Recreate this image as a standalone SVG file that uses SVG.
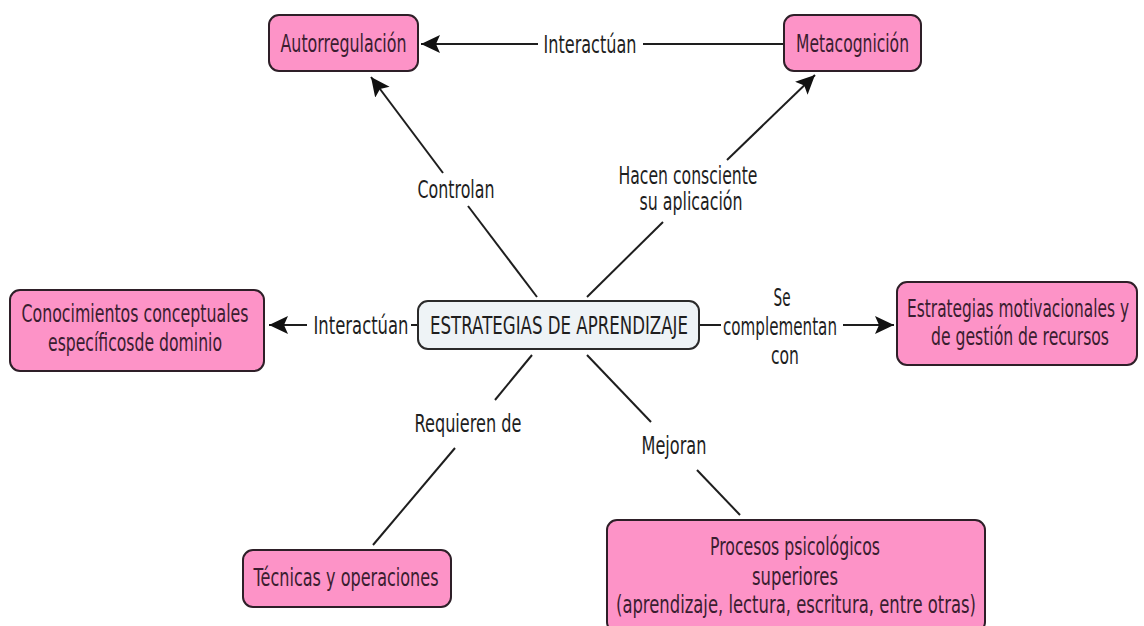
<svg xmlns="http://www.w3.org/2000/svg" width="1144" height="626" viewBox="0 0 1144 626">
<style>
  .pink { fill: #fd93c7; stroke: #2e1f28; stroke-width: 2; }
  .main { fill: #eef3f6; stroke: #2a2a2a; stroke-width: 2; }
  .nt { font-family: "DejaVu Sans", Verdana, sans-serif; font-size: 24px; fill: #3a1d30; text-anchor: middle; }
  .mt { font-family: "DejaVu Sans", Verdana, sans-serif; font-size: 24px; fill: #1e1e1e; text-anchor: middle; }
  .lt { font-family: "DejaVu Sans", Verdana, sans-serif; font-size: 24px; fill: #1e1e1e; text-anchor: middle; }
  .ln { stroke: #1e1e1e; stroke-width: 2; fill: none; }
  .ar { marker-end: url(#ah); }
</style>
<defs>
  <marker id="ah" markerUnits="userSpaceOnUse" markerWidth="22" markerHeight="20" refX="19" refY="9" orient="auto">
    <path d="M0,0 L19,9 L0,18 L4,9 Z" fill="#111"/>
  </marker>
</defs>
<rect width="1144" height="626" fill="#ffffff"/>

<g id="connectors">
  <line class="ln" x1="783" y1="44" x2="643" y2="44"/>
  <line class="ln ar" x1="538" y1="44" x2="421" y2="44"/>
  <line class="ln" x1="537" y1="297" x2="468" y2="206"/>
  <line class="ln ar" x1="443" y1="173" x2="371" y2="77"/>
  <line class="ln" x1="587" y1="297" x2="663" y2="222"/>
  <line class="ln ar" x1="727" y1="160" x2="815" y2="75"/>
  <line class="ln" x1="418" y1="325" x2="411" y2="325"/>
  <line class="ln ar" x1="307" y1="325" x2="269" y2="325"/>
  <line class="ln" x1="700" y1="325" x2="721" y2="325"/>
  <line class="ln ar" x1="843" y1="325" x2="894" y2="325"/>
  <line class="ln" x1="532" y1="355" x2="495" y2="400"/>
  <line class="ln" x1="455" y1="448" x2="373" y2="545"/>
  <line class="ln" x1="587" y1="355" x2="651" y2="422"/>
  <line class="ln" x1="697" y1="470" x2="740" y2="515"/>

  <text class="lt" x="590" y="53" textLength="93" lengthAdjust="spacingAndGlyphs">Interactúan</text>
  <text class="lt" x="456" y="198" textLength="77" lengthAdjust="spacingAndGlyphs">Controlan</text>
  <text class="lt" x="688" y="184" textLength="139" lengthAdjust="spacingAndGlyphs">Hacen consciente</text>
  <text class="lt" x="691" y="210" textLength="103" lengthAdjust="spacingAndGlyphs">su aplicación</text>
  <text class="lt" x="361" y="334" textLength="95" lengthAdjust="spacingAndGlyphs">Interactúan</text>
  <text class="lt" x="782" y="306" textLength="17" lengthAdjust="spacingAndGlyphs">Se</text>
  <text class="lt" x="780" y="335" textLength="114" lengthAdjust="spacingAndGlyphs">complementan</text>
  <text class="lt" x="785" y="364" textLength="28" lengthAdjust="spacingAndGlyphs">con</text>
  <text class="lt" x="468" y="432" textLength="107" lengthAdjust="spacingAndGlyphs">Requieren de</text>
  <text class="lt" x="674" y="454" textLength="65" lengthAdjust="spacingAndGlyphs">Mejoran</text>
</g>

<g id="node-autorregulacion">
  <rect class="pink" x="269" y="15" width="149" height="56" rx="10"/>
  <text class="nt" x="343.5" y="52" textLength="126" lengthAdjust="spacingAndGlyphs">Autorregulación</text>
</g>

<g id="node-metacognicion">
  <rect class="pink" x="784" y="15" width="137" height="56" rx="10"/>
  <text class="nt" x="852.5" y="52" textLength="113" lengthAdjust="spacingAndGlyphs">Metacognición</text>
</g>

<g id="node-estrategias">
  <rect class="main" x="418" y="301" width="281" height="48" rx="10"/>
  <text class="mt" x="559" y="334" textLength="258" lengthAdjust="spacingAndGlyphs">ESTRATEGIAS DE APRENDIZAJE</text>
</g>

<g id="node-conocimientos">
  <rect class="pink" x="10" y="290" width="254" height="81" rx="10"/>
  <text class="nt" x="135" y="322" textLength="227" lengthAdjust="spacingAndGlyphs">Conocimientos conceptuales</text>
  <text class="nt" x="135" y="351" textLength="174" lengthAdjust="spacingAndGlyphs">específicosde dominio</text>
</g>

<g id="node-motivacionales">
  <rect class="pink" x="897" y="282" width="240" height="83" rx="10"/>
  <text class="nt" x="1018" y="317" textLength="222" lengthAdjust="spacingAndGlyphs">Estrategias motivacionales y</text>
  <text class="nt" x="1020" y="345" textLength="178" lengthAdjust="spacingAndGlyphs">de gestión de recursos</text>
</g>

<g id="node-tecnicas">
  <rect class="pink" x="243" y="550" width="208" height="57" rx="10"/>
  <text class="nt" x="346" y="586" textLength="185" lengthAdjust="spacingAndGlyphs">Técnicas y operaciones</text>
</g>

<g id="node-procesos">
  <rect class="pink" x="607" y="520" width="378" height="112" rx="10"/>
  <text class="nt" x="795" y="555" textLength="170" lengthAdjust="spacingAndGlyphs">Procesos psicológicos</text>
  <text class="nt" x="795" y="585" textLength="86" lengthAdjust="spacingAndGlyphs">superiores</text>
  <text class="nt" x="796" y="613" textLength="360" lengthAdjust="spacingAndGlyphs">(aprendizaje, lectura, escritura, entre otras)</text>
</g>
</svg>
